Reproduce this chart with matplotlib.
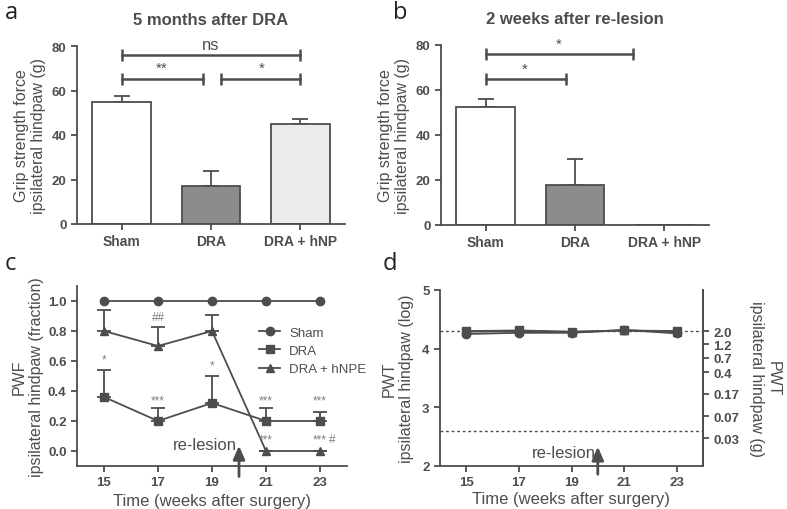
import numpy as np
import matplotlib.pyplot as plt

plt.rcParams['font.family'] = ['Liberation Sans', 'DejaVu Sans']

# panel a / b: grip strength bars
groups = ['Sham', 'DRA', 'DRA + hNP']
grip_5m = [55, 17, 45]
grip_5m_err = [2.5, 7, 2.3]
grip_2w = [52.5, 18, 0]
grip_2w_err = [3.7, 11.5, 0]
bar_colors = ['white', '#8c8c8c', '#ebebeb']

# panel c: PWF
weeks = [15, 17, 19, 21, 23]
pwf_sham = [1.0, 1.0, 1.0, 1.0, 1.0]
pwf_dra = [0.36, 0.2, 0.32, 0.2, 0.2]
pwf_dra_err = [0.18, 0.09, 0.18, 0.09, 0.06]
pwf_hnpe = [0.8, 0.7, 0.8, 0.0, 0.0]
pwf_hnpe_err = [0.14, 0.13, 0.11, 0.0, 0.0]

# panel d: PWT (log)
pwt_sham = [4.25, 4.27, 4.27, 4.32, 4.26]
pwt_dra = [4.30, 4.31, 4.29, 4.31, 4.30]
pwt_hnpe = [4.29, 4.30, 4.28, 4.31, 4.29]
pwt_right = [2.0, 1.2, 0.7, 0.4, 0.17, 0.07, 0.03]
pwt_right_lbl = ['2.0', '1.2', '0.7', '0.4', '0.17', '0.07', '0.03']

dark = '#4d4d4d'
W, H = 787, 510
fig = plt.figure(figsize=(7.87, 5.1), dpi=100)


def px_axes(l, t, r, b):
    return fig.add_axes([l / W, 1 - b / H, (r - l) / W, (b - t) / H])


def style(ax, bold=True):
    for s in ['top', 'right']:
        ax.spines[s].set_visible(False)
    for s in ['left', 'bottom']:
        ax.spines[s].set_color(dark)
        ax.spines[s].set_linewidth(1.3)
    ax.tick_params(colors=dark, width=1.3, length=4, labelsize=9.5)
    if bold:
        for t in ax.get_xticklabels() + ax.get_yticklabels():
            t.set_fontweight('bold')


def bracket(ax, x1, x2, y, txt, tpos, fs=11):
    ax.plot([x1, x2], [y, y], color=dark, lw=1.8, marker='|', ms=8, mew=1.8, clip_on=False)
    ax.text(tpos[0], tpos[1], txt, ha='center', va='bottom', color=dark, fontsize=fs, clip_on=False)


def relesion(ax, y0, y1, ty):
    ann = ax.annotate('', xy=(20, y1), xytext=(20, y0),
                      arrowprops=dict(arrowstyle='-|>,head_width=0.35,head_length=0.8',
                                      color=dark, lw=2, shrinkA=0, shrinkB=0),
                      annotation_clip=False)
    ann.arrow_patch.set_clip_on(False)
    ax.text(19.93, ty, 're-lesion', ha='right', va='bottom', color=dark, fontsize=12)


def bars(ax, vals, errs):
    x = np.arange(len(groups))
    ax.bar(x, vals, width=0.66, color=bar_colors, edgecolor=dark, linewidth=1.3, zorder=2)
    for xi, v, e in zip(x, vals, errs):
        if v > 0:
            ax.errorbar(xi, v, yerr=[[0], [e]], color=dark, capsize=6, elinewidth=1.3, capthick=1.3, zorder=1)
    ax.set_xlim(-0.5, 2.5)
    ax.set_ylim(0, 80)
    ax.set_yticks([0, 20, 40, 60, 80])
    ax.set_xticks(x)
    ax.set_xticklabels(groups)
    style(ax)
    ax.tick_params(axis='x', labelsize=10)
    ax.set_ylabel('Grip strength force\nipsilateral hindpaw (g)', color=dark, fontsize=11.5, labelpad=4)


# a
ax = px_axes(77, 47, 345, 225)
bars(ax, grip_5m, grip_5m_err)
ax.set_title('5 months after DRA', fontweight='bold', color=dark, fontsize=12, pad=16)
bracket(ax, 0, 2, 76, 'ns', (1.0, 77.5), fs=12)
bracket(ax, 0, 0.91, 65, '**', (0.45, 67))
bracket(ax, 1.11, 2, 65, '*', (1.57, 67))

# b
ax = px_axes(441, 46, 709, 226)
bars(ax, grip_2w, grip_2w_err)
ax.set_title('2 weeks after re-lesion', fontweight='bold', color=dark, fontsize=12, pad=16)
bracket(ax, 0, 1.65, 76, '*', (0.82, 77.5))
bracket(ax, 0, 0.9, 65, '*', (0.44, 66.5))

# c
ax = px_axes(77, 287, 347, 467)
ax.plot(weeks, pwf_sham, color=dark, marker='o', ms=6, lw=1.3)
ax.errorbar(weeks, pwf_dra, yerr=[np.zeros(5), pwf_dra_err], color=dark, marker='s', ms=6, lw=1.3,
            capsize=5, capthick=1.3)
ax.errorbar(weeks, pwf_hnpe, yerr=[np.zeros(5), pwf_hnpe_err], color=dark, marker='^', ms=6, lw=1.3,
            capsize=5, capthick=1.3)
ax.set_xlim(14, 24)
ax.set_ylim(-0.1, 1.1)
ax.set_xticks(weeks)
ax.set_yticks([0, 0.2, 0.4, 0.6, 0.8, 1.0])
ax.set_yticklabels(['0.0', '0.2', '0.4', '0.6', '0.8', '1.0'])
style(ax)
ax.set_xlabel('Time (weeks after surgery)', color=dark, fontsize=12, labelpad=3)
ax.set_ylabel('PWF\nipsilateral hindpaw (fraction)', color=dark, fontsize=11.5, labelpad=3)
hs = [plt.Line2D([], [], color=dark, marker=m, ms=6, lw=1.3) for m in ['o', 's', '^']]
ax.legend(hs, ['Sham', 'DRA', 'DRA + hNPE'], loc='upper left', bbox_to_anchor=(0.63, 0.84),
          frameon=False, handlelength=1.6, handletextpad=0.7, labelspacing=0.45, fontsize=9.5,
          labelcolor=dark)
star_kw = dict(ha='center', va='bottom', color='#808080', fontsize=8.5)
ax.text(15, 0.57, '*', **star_kw)
ax.text(19, 0.53, '*', **star_kw)
ax.text(17, 0.85, '##', **star_kw)
for w in [17, 21, 23]:
    ax.text(w, 0.30, '***', **star_kw)
ax.text(21, 0.04, '***', **star_kw)
ax.text(23, 0.04, '***', **star_kw)
ax.text(23.45, 0.04, '#', **star_kw)
relesion(ax, -0.17, 0.035, -0.01)

# d
ax = px_axes(440, 291, 703, 467)
ax.axhline(4.30, color=dark, ls=(0, (2, 2)), lw=1)
ax.axhline(2.6, color=dark, ls=(0, (2, 2)), lw=1)
ax.plot(weeks, pwt_hnpe, color=dark, marker='^', ms=6, lw=1.3)
ax.plot(weeks, pwt_sham, color=dark, marker='o', ms=6, lw=1.3)
ax.plot(weeks, pwt_dra, color=dark, marker='s', ms=6, lw=1.3)
ax.set_xlim(14, 24)
ax.set_ylim(2, 5)
ax.set_xticks(weeks)
ax.set_yticks([2, 3, 4, 5])
style(ax)
ax.spines['right'].set_visible(True)
ax.spines['right'].set_color(dark)
ax.spines['right'].set_linewidth(1.3)
ax.set_xlabel('Time (weeks after surgery)', color=dark, fontsize=12, labelpad=2)
ax.set_ylabel('PWT\nipsilateral hindpaw (log)', color=dark, fontsize=11.5, labelpad=6)
relesion(ax, 1.86, 2.33, 2.1)
ax2 = ax.twinx()
ax2.set_ylim(2, 5)
ax2.set_yticks(np.log10(np.array(pwt_right) * 1e4))
ax2.set_yticklabels(pwt_right_lbl)
for s in ['top', 'left', 'bottom']:
    ax2.spines[s].set_visible(False)
ax2.spines['right'].set_color(dark)
ax2.spines['right'].set_linewidth(1.3)
ax2.tick_params(colors=dark, width=1.3, length=4, labelsize=9.5)
for t in ax2.get_yticklabels():
    t.set_fontweight('bold')
ax2.set_ylabel('PWT\nipsilateral hindpaw (g)', color=dark, fontsize=11.5, rotation=270, labelpad=30)

# panel letters
for ch, x, y in [('a', 5, 19), ('b', 393, 19), ('c', 5, 270), ('d', 383, 270)]:
    fig.text(x / W, 1 - y / H, ch, fontsize=17, color='#222222', family='Open Sans')

fig.savefig('out.png', dpi=100)
